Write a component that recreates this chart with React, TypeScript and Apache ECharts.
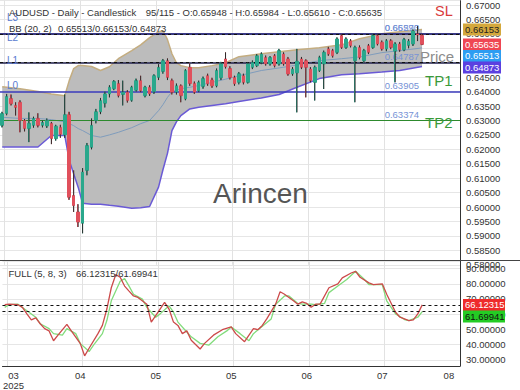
import React, { useEffect, useRef } from "react";
import * as echarts from "echarts";

const FONT = '"Liberation Sans", Arial, sans-serif';

// ---------- categories (trading days) ----------
const startDate = [2025, 2, 14];
const slotCount = 103;
const categories: string[] = [];
{
  const d = new Date(Date.UTC(startDate[0], startDate[1], startDate[2]));
  while (categories.length < slotCount) {
    const wd = d.getUTCDay();
    if (wd !== 0 && wd !== 6) categories.push(d.toISOString().slice(0, 10));
    d.setUTCDate(d.getUTCDate() + 1);
  }
}
const tickIndex = [2, 17, 34, 51, 68, 85, 100];
const tickLabels = ["03\n2025", "04", "05", "05", "06", "07", "08"];
const gridLineIndex = [1, 18, 35, 52, 69, 86];

// ---------- price candles: [open, close, low, high] ----------
const ohlc: number[][] = [
  [0.6283, 0.6324, 0.6276, 0.633], [0.6324, 0.6383, 0.6318, 0.6392], [0.6376, 0.6358, 0.6352, 0.639],
  [0.6352, 0.6345, 0.6317, 0.6363], [0.6363, 0.63, 0.6259, 0.637], [0.63, 0.6272, 0.6262, 0.6305],
  [0.6272, 0.629, 0.6225, 0.6328], [0.6283, 0.6307, 0.6275, 0.6313], [0.6307, 0.6283, 0.6276, 0.6325],
  [0.6283, 0.6293, 0.6276, 0.63], [0.6281, 0.63, 0.6274, 0.6307], [0.629, 0.6237, 0.6218, 0.6295],
  [0.6237, 0.628, 0.623, 0.6285], [0.6276, 0.6252, 0.624, 0.6285], [0.625, 0.632, 0.624, 0.639],
  [0.632, 0.6034, 0.6025, 0.633], [0.604, 0.6005, 0.5983, 0.6127], [0.5983, 0.5948, 0.5931, 0.601],
  [0.5944, 0.6121, 0.5909, 0.6135], [0.6127, 0.6213, 0.611, 0.6222], [0.6207, 0.6283, 0.62, 0.6307],
  [0.63, 0.633, 0.629, 0.634], [0.633, 0.6369, 0.6322, 0.6378], [0.636, 0.6392, 0.6345, 0.64],
  [0.6392, 0.6415, 0.638, 0.6422], [0.641, 0.6435, 0.6405, 0.644], [0.6428, 0.6386, 0.638, 0.644],
  [0.639, 0.6398, 0.6352, 0.6438], [0.6398, 0.6369, 0.6362, 0.6405], [0.637, 0.6415, 0.6365, 0.642],
  [0.6405, 0.6438, 0.64, 0.6445], [0.6438, 0.6403, 0.6398, 0.6455], [0.6386, 0.6415, 0.638, 0.642],
  [0.6415, 0.6392, 0.6385, 0.6422], [0.64, 0.6455, 0.6392, 0.646], [0.6449, 0.6484, 0.644, 0.6495],
  [0.647, 0.6507, 0.6462, 0.6513], [0.6507, 0.6449, 0.644, 0.6515], [0.6438, 0.6398, 0.639, 0.6445],
  [0.6398, 0.642, 0.639, 0.6428], [0.642, 0.6386, 0.6363, 0.6425], [0.6375, 0.6473, 0.637, 0.6478],
  [0.6484, 0.6428, 0.642, 0.6498], [0.6428, 0.6398, 0.6392, 0.6435], [0.6403, 0.6432, 0.6398, 0.6438],
  [0.6418, 0.6445, 0.641, 0.6452], [0.6455, 0.6427, 0.642, 0.6462], [0.644, 0.642, 0.6413, 0.6448],
  [0.642, 0.6473, 0.6415, 0.648], [0.6448, 0.6496, 0.644, 0.6503], [0.6513, 0.6486, 0.648, 0.6536],
  [0.648, 0.6449, 0.6442, 0.6488], [0.6449, 0.6427, 0.642, 0.6455], [0.6432, 0.6462, 0.6425, 0.6468],
  [0.6455, 0.6432, 0.6425, 0.6462], [0.6432, 0.6496, 0.6428, 0.65], [0.6484, 0.6501, 0.6478, 0.6508],
  [0.649, 0.6524, 0.6485, 0.653], [0.6501, 0.653, 0.6495, 0.6536], [0.6518, 0.6496, 0.649, 0.6525],
  [0.6496, 0.6518, 0.649, 0.6523], [0.6524, 0.649, 0.6484, 0.653], [0.6496, 0.6542, 0.649, 0.6548],
  [0.653, 0.6496, 0.649, 0.6536], [0.6513, 0.6461, 0.6455, 0.652], [0.6461, 0.6478, 0.6455, 0.6485],
  [0.6465, 0.6505, 0.6328, 0.6548], [0.6513, 0.6484, 0.6478, 0.652], [0.6507, 0.6484, 0.638, 0.6512],
  [0.6478, 0.6438, 0.6432, 0.6485], [0.6432, 0.6484, 0.6369, 0.649], [0.6473, 0.6518, 0.6468, 0.6524],
  [0.6496, 0.6536, 0.6409, 0.6542], [0.6548, 0.653, 0.6524, 0.6555], [0.6542, 0.6524, 0.6518, 0.6548],
  [0.6536, 0.6582, 0.653, 0.6588], [0.6594, 0.6553, 0.6548, 0.6599], [0.6553, 0.6582, 0.6548, 0.6588],
  [0.6576, 0.6559, 0.6553, 0.6582], [0.6507, 0.6553, 0.6363, 0.6559], [0.6553, 0.6518, 0.6512, 0.656],
  [0.6507, 0.6542, 0.65, 0.6548], [0.6559, 0.6536, 0.653, 0.6565], [0.6553, 0.6594, 0.6548, 0.66],
  [0.6594, 0.6565, 0.656, 0.66], [0.6571, 0.6548, 0.6542, 0.6577], [0.6548, 0.6576, 0.654, 0.6582],
  [0.6576, 0.6553, 0.6547, 0.6582], [0.654, 0.6565, 0.6432, 0.6571], [0.6565, 0.6545, 0.6538, 0.6572],
  [0.6545, 0.658, 0.654, 0.6586], [0.656, 0.6575, 0.655, 0.6582], [0.6565, 0.661, 0.6558, 0.6615],
  [0.66, 0.6596, 0.6575, 0.6627], [0.65948, 0.65635, 0.6561, 0.65984],
];

// ---------- Bollinger bands (read at sample candles) ----------
const bbIdx = [0, 4, 8, 11, 14, 15, 16, 17, 18, 20, 22, 24, 26, 29, 31, 33, 35, 36, 37, 38, 39, 40, 42, 44, 47, 50, 53, 58, 62, 66, 71, 76, 80, 85, 89, 94];
const bbUpper = [0.6417, 0.641, 0.64, 0.6392, 0.6386, 0.6438, 0.648, 0.649, 0.649, 0.6487, 0.6473, 0.6486, 0.6514, 0.6542, 0.6562, 0.6587, 0.6607, 0.6611, 0.658, 0.6531, 0.65, 0.649, 0.6483, 0.6483, 0.649, 0.65, 0.6521, 0.6531, 0.6538, 0.6545, 0.6552, 0.6562, 0.6583, 0.66, 0.6607, 0.66153];
const bbMid = [0.6311, 0.6307, 0.6307, 0.6303, 0.6295, 0.6289, 0.6282, 0.6272, 0.6265, 0.6248, 0.6242, 0.625, 0.6259, 0.6275, 0.6289, 0.63, 0.6334, 0.6355, 0.638, 0.64, 0.6405, 0.641, 0.6415, 0.6421, 0.6432, 0.6443, 0.6455, 0.6473, 0.6482, 0.6492, 0.6507, 0.6514, 0.652, 0.6535, 0.6542, 0.65513];
const bbLower = [0.6208, 0.6208, 0.6208, 0.6248, 0.6248, 0.6162, 0.6115, 0.6069, 0.6013, 0.601, 0.601, 0.6006, 0.6003, 0.5996, 0.5998, 0.6002, 0.6069, 0.613, 0.6186, 0.6265, 0.6295, 0.6317, 0.634, 0.6346, 0.6352, 0.6358, 0.6366, 0.6378, 0.639, 0.6415, 0.6445, 0.6458, 0.6462, 0.6468, 0.6473, 0.64873];

// ---------- horizontal levels ----------
const levelValues = [0.66273, 0.6559, 0.64787, 0.63905, 0.63374];
const levelNames = ["L3", "L2", "L1", "L0", ""];

// ---------- stochastic (5, 8, 3) ----------
const kIdx = [0, 1, 3, 4, 5, 6, 7, 8, 9, 10, 11, 12, 14, 15, 17, 18, 19, 21, 22, 23, 24, 25, 26, 27, 28, 29, 30, 32, 33, 34, 36, 37, 38, 39, 40, 41, 42, 44, 45, 47, 49, 51, 52, 54, 56, 57, 58, 59, 61, 62, 63, 65, 66, 67, 68, 69, 70, 71, 73, 75, 76, 78, 79, 80, 82, 83, 85, 86, 88, 89, 91, 92, 93, 94];
const kVal = [66.2, 66.6, 66.2, 64.5, 60.2, 56.3, 57.6, 53.7, 50.5, 49.0, 42.5, 46.2, 53.3, 49.0, 40.8, 32.6, 37.6, 47.2, 52.6, 63.4, 77.4, 86.0, 84.3, 78.5, 75.2, 72.0, 71.0, 66.6, 54.8, 59.1, 67.7, 63.4, 54.8, 52.6, 47.2, 49.0, 42.9, 37.1, 40.8, 46.2, 49.8, 51.6, 47.2, 41.9, 50.5, 49.8, 52.6, 56.9, 66.6, 74.8, 73.1, 68.8, 66.6, 68.1, 67.1, 64.5, 66.6, 66.6, 77.4, 80.0, 83.9, 87.1, 88.2, 84.3, 80.6, 79.5, 80.0, 73.1, 61.3, 58.0, 55.8, 56.3, 60.2, 66.12315];
const dIdx = [0, 1, 3, 5, 7, 8, 10, 11, 13, 14, 16, 17, 19, 20, 22, 23, 24, 26, 27, 28, 29, 31, 32, 34, 35, 37, 38, 39, 41, 42, 44, 46, 48, 50, 51, 53, 55, 56, 58, 60, 61, 63, 64, 66, 67, 69, 70, 72, 73, 75, 77, 79, 81, 82, 85, 86, 88, 90, 91, 93, 94];
const dVal = [64.5, 66.2, 66.6, 62.3, 58.0, 53.7, 50.5, 47.2, 46.2, 50.5, 47.2, 40.8, 35.4, 39.7, 47.2, 55.8, 68.8, 81.7, 83.4, 78.5, 73.1, 69.9, 64.5, 58.0, 60.2, 65.5, 61.3, 54.8, 48.3, 45.1, 40.8, 39.7, 45.1, 49.0, 51.6, 47.2, 42.5, 47.2, 52.0, 56.9, 66.6, 72.0, 72.0, 67.1, 66.6, 66.6, 66.2, 67.1, 74.2, 78.5, 82.8, 88.2, 82.8, 79.5, 79.5, 68.8, 60.2, 56.5, 55.8, 58.0, 61.69941];

const last = ohlc.length - 1;
const lastCandle = ohlc[last];
const bbU = bbUpper[bbUpper.length - 1];
const bbM = bbMid[bbMid.length - 1];
const bbL = bbLower[bbLower.length - 1];
const kNow = kVal[kVal.length - 1];
const dNow = dVal[dVal.length - 1];

const f5 = (v: number) => v.toFixed(5);

function buildOption(): any {
  const splitSet = new Set(gridLineIndex);
  const labelMap = new Map(tickIndex.map((ix, k) => [ix, tickLabels[k]]));
  const splitLine = {
    show: true,
    interval: (i: number) => splitSet.has(i),
    lineStyle: { color: "#e2e2e2", width: 1 },
  };
  const levelColors = ["#2e2e7c", "#2e2e7c", "#22224e", "#3b3bbd", "#2d8a2d"];
  const levelLines: any[] = levelValues.map((v, k) => ({
    yAxis: v,
    lineStyle: { color: levelColors[k], width: k === 4 ? 1.2 : 1.5, type: "solid" },
    label: {
      show: true,
      position: "insideEndTop",
      formatter: f5(v),
      color: "#7793d6",
      fontSize: 9.5,
      fontFamily: FONT,
      padding: [0, 40, 0, 0],
      distance: 1,
    },
  }));
  [bbU, lastCandle[1], bbL].forEach((v) =>
    levelLines.push({
      yAxis: v,
      lineStyle: { color: "#111", width: 1.2, type: [3, 3] },
      label: { show: false },
    })
  );

  return {
    animation: false,
    backgroundColor: "#ffffff",
    textStyle: { fontFamily: FONT },
    grid: [
      { left: 0, top: 0, width: 460, height: 264.8 },
      { left: 0, top: 261, width: 460, height: 107 },
    ],
    xAxis: [
      {
        type: "category",
        gridIndex: 0,
        data: categories,
        boundaryGap: true,
        axisLine: { show: false },
        axisTick: { show: false },
        axisLabel: { show: false },
        splitLine,
      },
      {
        type: "category",
        gridIndex: 1,
        data: categories,
        boundaryGap: true,
        axisLine: { show: true, lineStyle: { color: "#333" } },
        axisTick: { show: false },
        axisLabel: {
          show: true,
          interval: (i: number) => labelMap.has(i),
          formatter: (_v: string, i: number) => labelMap.get(i) ?? "",
          fontSize: 9.5,
          lineHeight: 10,
          color: "#333",
          fontFamily: FONT,
          margin: 4,
        },
        splitLine,
      },
    ],
    yAxis: [
      {
        type: "value",
        gridIndex: 0,
        position: "right",
        min: 0.58,
        max: 0.6715,
        interval: 0.005,
        axisLine: { show: true, lineStyle: { color: "#333" } },
        axisTick: { show: false },
        axisLabel: {
          formatter: (v: number) => f5(v),
          fontSize: 9.5,
          color: "#333",
          fontFamily: FONT,
          margin: 6,
          showMaxLabel: false,
          showMinLabel: true,
        },
        splitLine: { show: true, lineStyle: { color: "#e6e6e6" } },
      },
      {
        type: "value",
        gridIndex: 1,
        position: "right",
        min: 25.9,
        max: 95,
        splitNumber: 7,
        axisLine: { show: true, lineStyle: { color: "#333" } },
        axisTick: { show: false },
        axisLabel: {
          formatter: (v: number) => f5(v),
          fontSize: 9.5,
          color: "#333",
          fontFamily: FONT,
          margin: 6,
          showMaxLabel: false,
          showMinLabel: false,
        },
        splitLine: { show: true, lineStyle: { color: "#e6e6e6" } },
      },
    ],
    series: [
      {
        type: "custom",
        name: "bbFill",
        xAxisIndex: 0,
        yAxisIndex: 0,
        z: 1,
        silent: true,
        data: bbIdx.map((ix, k) => [ix, bbUpper[k], bbLower[k]]),
        encode: { x: 0, y: [1, 2] },
        renderItem: (params: any, api: any) => {
          if (params.dataIndex !== 0) return null;
          const pts: number[][] = [];
          for (let k = 0; k < bbIdx.length; k++) pts.push(api.coord([bbIdx[k], bbUpper[k]]));
          for (let k = bbIdx.length - 1; k >= 0; k--) pts.push(api.coord([bbIdx[k], bbLower[k]]));
          return { type: "polygon", shape: { points: pts }, style: { fill: "#bcbcbc" } };
        },
      },
      {
        type: "line",
        name: "levels",
        xAxisIndex: 0,
        yAxisIndex: 0,
        z: 2,
        data: [],
        silent: true,
        markLine: { symbol: "none", silent: true, animation: false, data: levelLines },
      },
      {
        type: "line",
        name: "bbUpper",
        xAxisIndex: 0,
        yAxisIndex: 0,
        z: 3,
        showSymbol: false,
        silent: true,
        data: bbIdx.map((ix, k) => [ix, bbUpper[k]]),
        lineStyle: { color: "#c4ad80", width: 1.5 },
      },
      {
        type: "line",
        name: "bbMid",
        xAxisIndex: 0,
        yAxisIndex: 0,
        z: 3,
        showSymbol: false,
        silent: true,
        data: bbIdx.map((ix, k) => [ix, bbMid[k]]),
        lineStyle: { color: "#7f9cbc", width: 1 },
      },
      {
        type: "line",
        name: "bbLower",
        xAxisIndex: 0,
        yAxisIndex: 0,
        z: 3,
        showSymbol: false,
        silent: true,
        data: bbIdx.map((ix, k) => [ix, bbLower[k]]),
        lineStyle: { color: "#6a5ad6", width: 1.5 },
      },
      {
        type: "candlestick",
        name: "AUDUSD",
        xAxisIndex: 0,
        yAxisIndex: 0,
        z: 5,
        silent: true,
        barWidth: 3,
        data: ohlc,
        itemStyle: {
          color: "#2aa88c",
          color0: "#e0505c",
          borderColor: "#2aa88c",
          borderColor0: "#e0505c",
          borderWidth: 1,
        },
      },
      {
        type: "custom",
        name: "wicks",
        xAxisIndex: 0,
        yAxisIndex: 0,
        z: 6,
        silent: true,
        data: ohlc.map((c, i) => [i, c[0], c[1], c[2], c[3]]),
        encode: { x: 0, y: [1, 2, 3, 4] },
        renderItem: (_params: any, api: any) => {
          const i = api.value(0);
          const o = api.value(1);
          const c = api.value(2);
          const l = api.value(3);
          const h = api.value(4);
          const pHi = api.coord([i, h]);
          const pTop = api.coord([i, Math.max(o, c)]);
          const pBot = api.coord([i, Math.min(o, c)]);
          const pLo = api.coord([i, l]);
          const x = pHi[0];
          return {
            type: "group",
            children: [
              { type: "line", shape: { x1: x, y1: pHi[1], x2: x, y2: pTop[1] }, style: { stroke: "#2a2a2a", lineWidth: 1 } },
              { type: "line", shape: { x1: x, y1: pBot[1], x2: x, y2: pLo[1] }, style: { stroke: "#2a2a2a", lineWidth: 1 } },
            ],
          };
        },
      },
      {
        type: "line",
        name: "%D",
        xAxisIndex: 1,
        yAxisIndex: 1,
        z: 3,
        showSymbol: false,
        silent: true,
        data: dIdx.map((ix, k) => [ix, dVal[k]]),
        lineStyle: { color: "#82dc7c", width: 1.3 },
      },
      {
        type: "line",
        name: "%K",
        xAxisIndex: 1,
        yAxisIndex: 1,
        z: 4,
        showSymbol: false,
        silent: true,
        data: kIdx.map((ix, k) => [ix, kVal[k]]),
        lineStyle: { color: "#cc4a4a", width: 1.3 },
        markLine: {
          symbol: "none",
          silent: true,
          animation: false,
          label: { show: false },
          lineStyle: { color: "#111", width: 1.2, type: [3, 3] },
          data: [{ yAxis: kNow }, { yAxis: dNow }],
        },
      },
    ],
  };
}

function txt(text: string, x: number, y: number, size: number, fill: string, extra: any = {}) {
  return {
    type: "text",
    x,
    y,
    z: 100,
    silent: true,
    style: {
      text,
      fill,
      fontSize: size,
      fontFamily: FONT,
      align: "left",
      verticalAlign: "middle",
      ...extra,
    },
  };
}

function buildGraphics(chart: any): any[] {
  const yOf = (axis: number, v: number) => chart.convertToPixel({ yAxisIndex: axis }, v) as number;
  const stack = (items: any[], gap: number) => {
    let prev = -Infinity;
    return items.map((it) => {
      const y = Math.max(yOf(it.axis, it.v), prev + gap);
      prev = y;
      return { ...it, y };
    });
  };
  const badges = [
    ...stack(
      [
        { axis: 0, v: bbU, bg: "#d4a83c", fg: "#222", w: 38 },
        { axis: 0, v: lastCandle[1], bg: "#ef4653", fg: "#fff", w: 38 },
        { axis: 0, v: bbM, bg: "#2d9df2", fg: "#fff", w: 38 },
        { axis: 0, v: bbL, bg: "#5b40e0", fg: "#fff", w: 38 },
      ],
      11.5
    ),
    ...stack(
      [
        { axis: 1, v: kNow, bg: "#ee2b2b", fg: "#fff", w: 42 },
        { axis: 1, v: dNow, bg: "#24cc24", fg: "#111", w: 42 },
      ],
      11.5
    ),
  ];
  const g: any[] = [];
  badges.forEach((b) => {
    g.push({
      type: "rect",
      z: 110,
      silent: true,
      shape: { x: 463, y: b.y - 6, width: b.w, height: 12 },
      style: { fill: b.bg },
    });
    g.push({ ...txt(f5(b.v), 465, b.y, 9.5, b.fg), z: 111 });
  });

  // header texts
  g.push(txt("AUDUSD - Daily - Candlestick", 9, 12.5, 9.5, "#333"));
  g.push(
    txt(
      `95/115 - O:${f5(lastCandle[0])} - H:${f5(lastCandle[3])} - L:${f5(lastCandle[2])} - C:${f5(lastCandle[1])}`,
      145.7,
      12.5,
      9.5,
      "#333"
    )
  );
  g.push(txt("BB (20, 2)", 9, 28.5, 9.5, "#333"));
  g.push(txt(`${f5(bbM)}/${f5(bbU)}/${f5(bbL)}`, 58, 28.5, 9.5, "#333"));
  g.push(txt("FULL (5, 8, 3)", 8.5, 273.5, 9.5, "#333"));
  g.push(txt(`${f5(kNow)}/${f5(dNow)}`, 76, 273.5, 9.5, "#333"));

  // level names on the left
  levelNames.forEach((n, k) => {
    if (!n) return;
    const y = yOf(0, levelValues[k]) - 8.5;
    g.push({ ...txt(n, 7, y, 10, "#5a7bd0"), z: 50 });
  });

  // annotations
  g.push({ ...txt("SL", 435, 10.5, 14.5, "#d93a3a"), z: 50 });
  g.push({ ...txt("TP1", 425, 80.5, 15, "#3a9a3a"), z: 50 });
  g.push({ ...txt("TP2", 425, 122, 15, "#3a9a3a"), z: 50 });
  g.push({ ...txt("Price", 420, 56, 15, "#8c8c8c"), z: 4 });
  g.push({ ...txt("Arincen", 213, 193, 28, "#555555"), z: 50 });

  // panel separator
  g.push({
    type: "line",
    z: 100,
    silent: true,
    shape: { x1: 0, y1: 260.5, x2: 520, y2: 260.5 },
    style: { stroke: "#444", lineWidth: 1 },
  });
  return g;
}

export default function App() {
  const ref = useRef<HTMLDivElement>(null);
  useEffect(() => {
    const el = ref.current;
    if (!el) return;
    const chart = echarts.init(el, null, { renderer: "svg" });
    chart.setOption(buildOption());
    chart.setOption({ graphic: buildGraphics(chart) });
    return () => {
      chart.dispose();
    };
  }, []);
  return (
    <div
      ref={ref}
      style={{ position: "fixed", left: 0, top: 0, width: 520, height: 390, background: "#fff" }}
    />
  );
}
